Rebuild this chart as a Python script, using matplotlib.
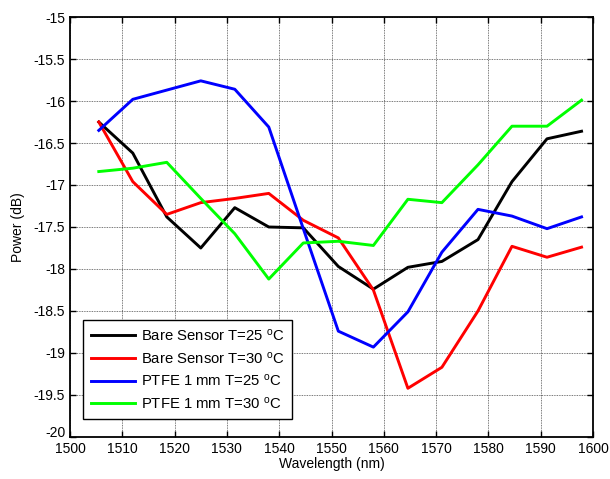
import matplotlib
matplotlib.use("Agg")
import matplotlib.pyplot as plt
import matplotlib.transforms as mtransforms

plt.rcParams['font.family'] = ['Liberation Sans', 'DejaVu Sans']
plt.rcParams['mathtext.default'] = 'regular'

wavelength = [1505.5, 1512, 1518.5, 1525, 1531.5, 1538, 1544.6, 1551.3, 1558, 1564.6, 1571.1, 1578, 1584.5, 1591.2, 1597.8]
bare_25 = [-16.25, -16.62, -17.38, -17.75, -17.27, -17.50, -17.51, -17.97, -18.24, -17.98, -17.91, -17.65, -16.96, -16.45, -16.36]
bare_30 = [-16.25, -16.96, -17.35, -17.21, -17.16, -17.10, -17.42, -17.63, -18.25, -19.42, -19.17, -18.50, -17.73, -17.86, -17.74]
ptfe_25 = [-16.35, -15.98, -15.87, -15.76, -15.86, -16.31, -17.52, -18.74, -18.93, -18.51, -17.80, -17.29, -17.37, -17.52, -17.38]
ptfe_30 = [-16.84, -16.80, -16.73, -17.16, -17.58, -18.12, -17.69, -17.67, -17.72, -17.17, -17.21, -16.76, -16.30, -16.30, -15.99]

labels = ['Bare Sensor T=25 $^{o}$C', 'Bare Sensor T=30 $^{o}$C',
          'PTFE 1 mm T=25 $^{o}$C', 'PTFE 1 mm T=30 $^{o}$C']
colors = ['#000000', '#ff0000', '#0000ff', '#00ff00']

fig = plt.figure(figsize=(6.1, 4.79), dpi=100)
ax = fig.add_axes([0.1148, 0.0877, 0.8574, 0.8768])

for ys, lab, c in zip([bare_25, bare_30, ptfe_25, ptfe_30], labels, colors):
    ax.plot(wavelength, ys, color=c, lw=2.1, label=lab)

ax.set_xlim(1500, 1600)
ax.set_ylim(-20, -15)
ax.set_xticks(range(1500, 1601, 10))
ax.set_yticks([-20 + 0.5 * i for i in range(11)])
ax.set_yticklabels(['-20', '-19.5', '-19', '-18.5', '-18', '-17.5', '-17', '-16.5', '-16', '-15.5', '-15'])
ax.grid(True, color='#000000', linestyle=(0, (1, 1)), linewidth=0.6, alpha=0.7)
ax.tick_params(direction='in', top=True, right=True, labelsize=10, length=4, width=1)
for s in ax.spines.values():
    s.set_linewidth(1.3)
ax.set_xlabel('Wavelength (nm)', fontsize=10, labelpad=1)
ax.set_ylabel('Power (dB)', fontsize=10, labelpad=6)

# nudge the lowest y label up slightly, as in the reference
lab0 = ax.get_yticklabels()[0]
lab0.set_transform(lab0.get_transform() + mtransforms.ScaledTranslation(0, 4 / 72, fig.dpi_scale_trans))

leg = ax.legend(loc='lower left', bbox_to_anchor=(0.025, 0.043), fontsize=10.7,
                frameon=True, fancybox=False, edgecolor='black', framealpha=1,
                borderaxespad=0, handlelength=3.0, handletextpad=0.4,
                labelspacing=0.45, borderpad=0.5)
leg.get_frame().set_linewidth(1.0)

fig.savefig('out.png', dpi=100)
